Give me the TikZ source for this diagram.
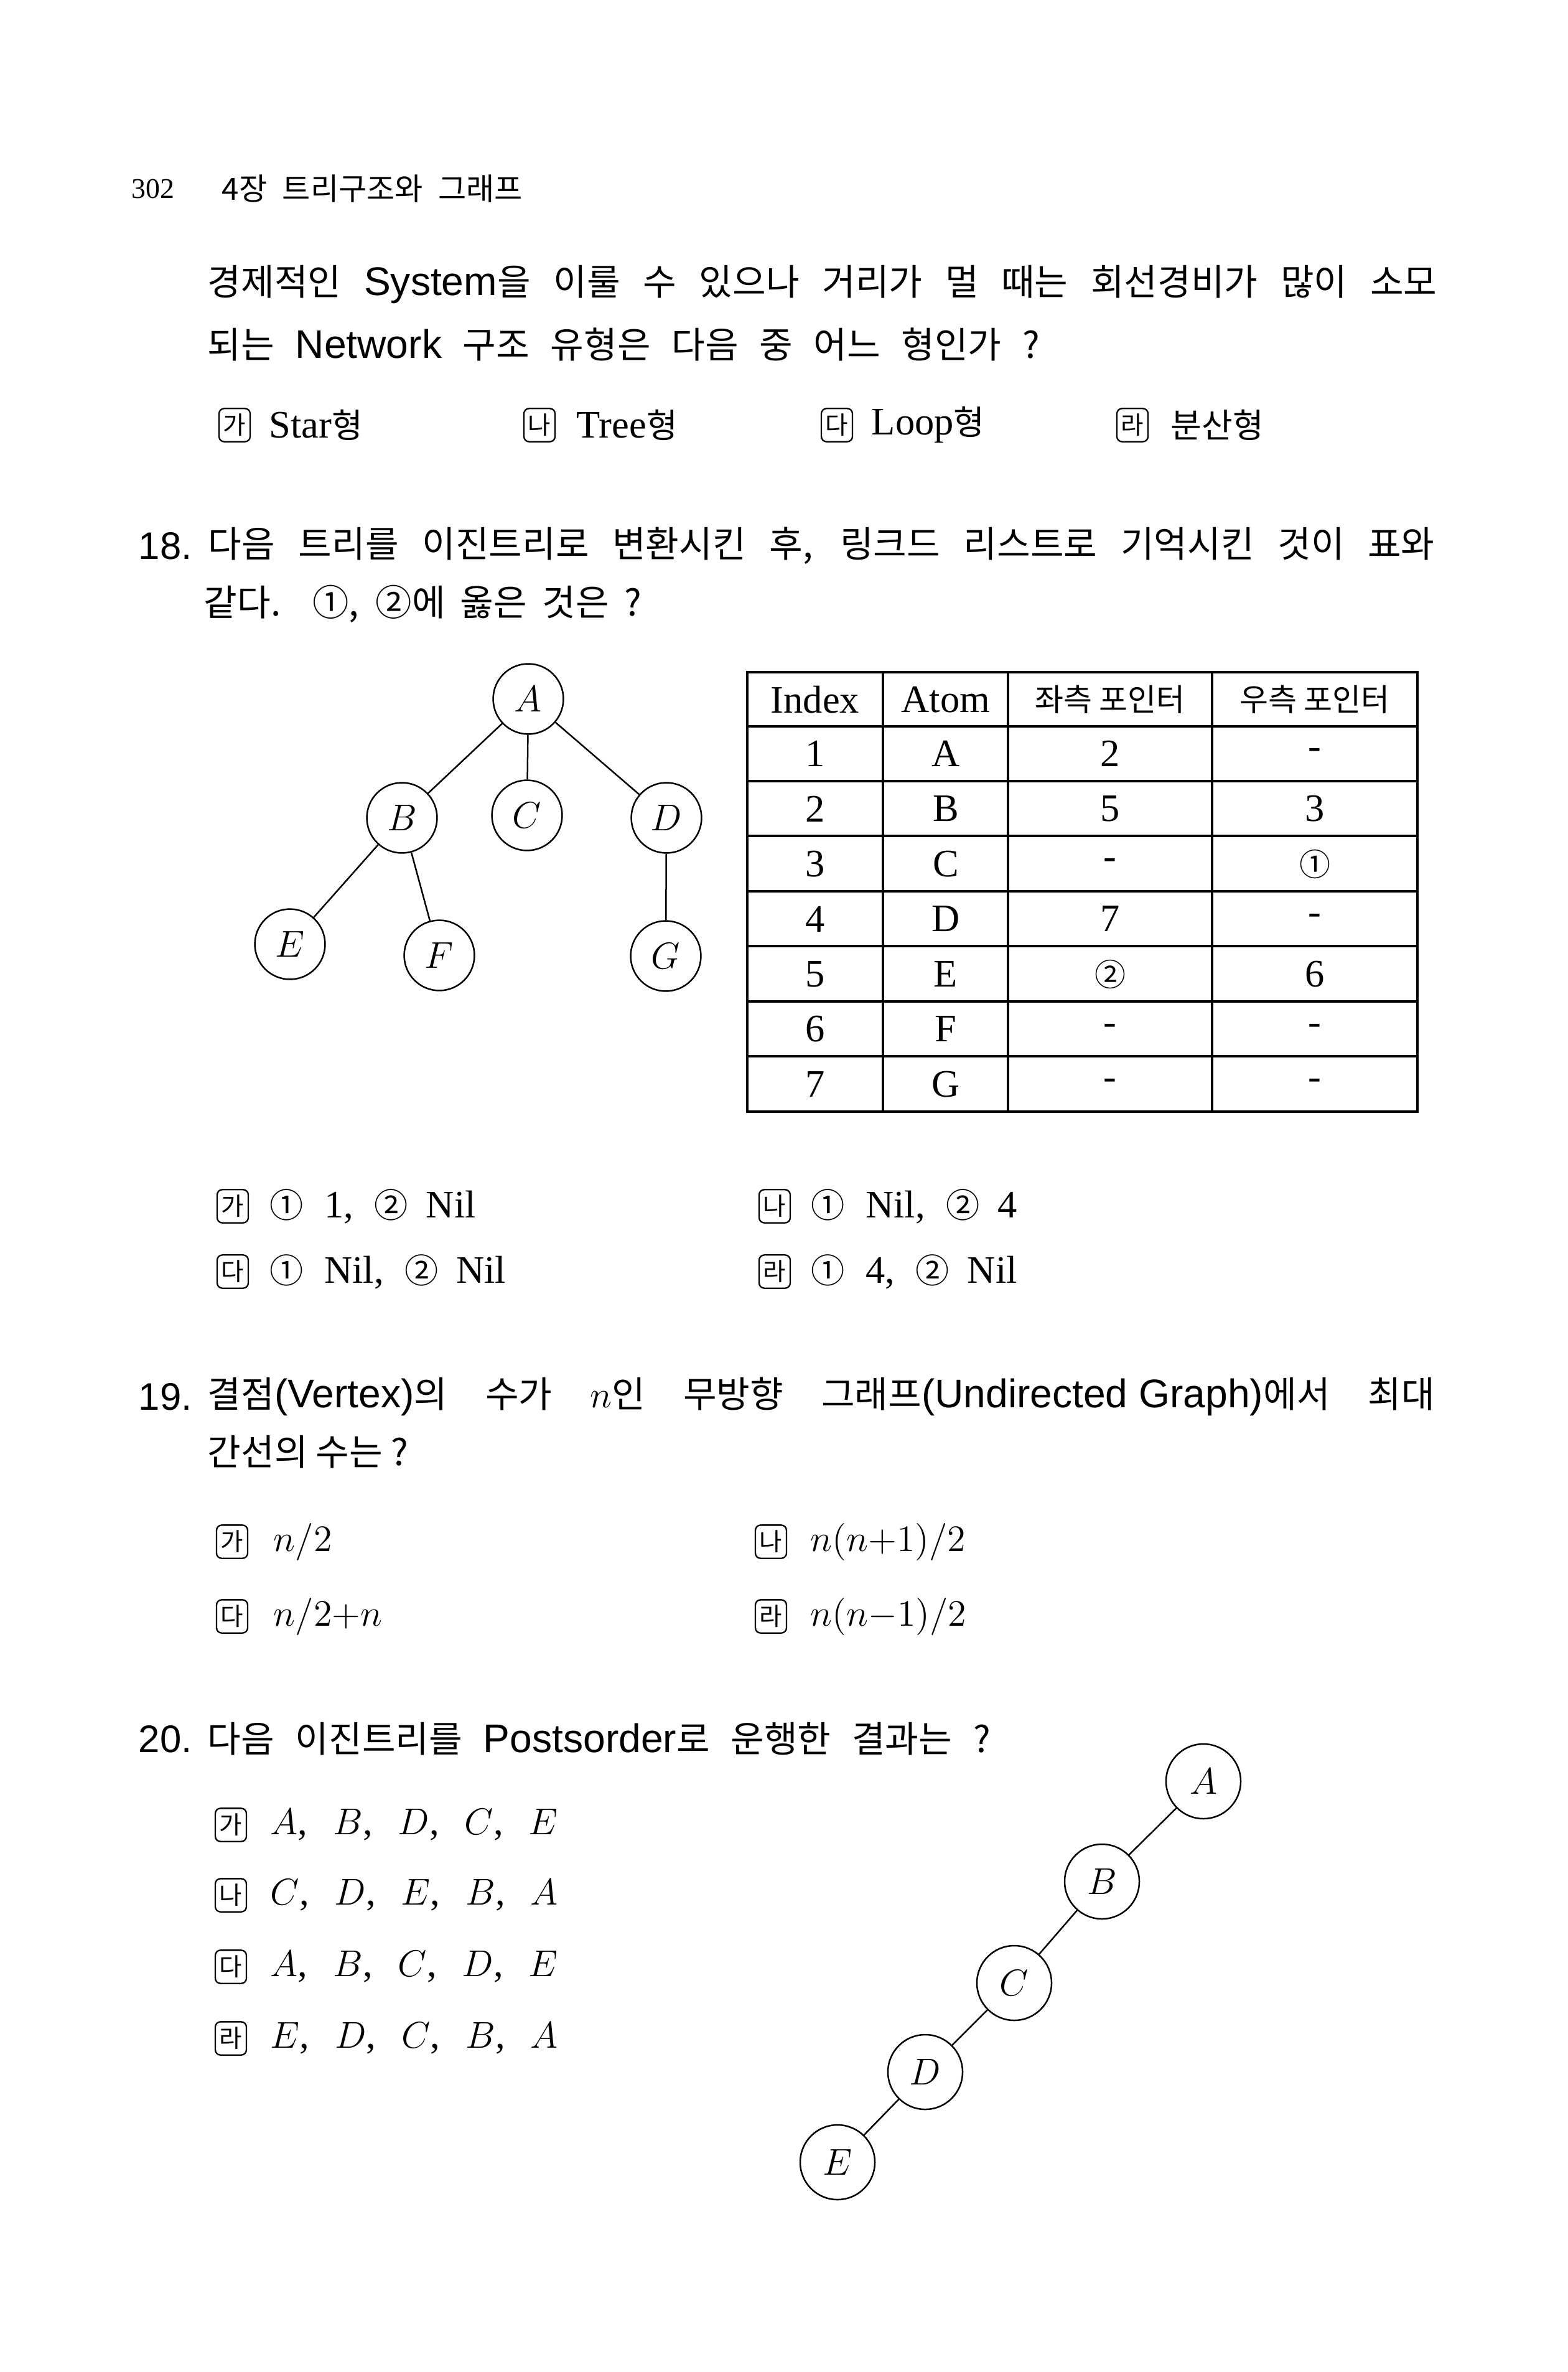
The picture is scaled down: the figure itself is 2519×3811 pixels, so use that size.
\documentclass[tikz,border=0pt]{standalone}
\usepackage{fontspec}
\setmainfont{Liberation Serif}
\newfontfamily\kr{Noto Sans CJK KR}
\newfontfamily\ls{Liberation Sans}
\newcommand\fs[1]{\fontsize{#1}{#1}\selectfont}
\newcommand\lw[1]{{\ls\fs{15.4pt}#1}}
\newcommand\hk[1]{{\kr\fs{13pt}#1}}
\newcommand\tk[1]{{\kr\fs{12pt}#1}}
\begin{document}
\begin{tikzpicture}[x=0.24pt,y=-0.24pt,
  stem/.style={anchor=west,inner sep=0pt,font=\kr\fs{14pt}},
  qnum/.style={anchor=west,inner sep=0pt,font=\ls\fs{14.8pt}},
  chbox/.style={draw,rounded corners=2pt,minimum width=12pt,minimum height=12.8pt,inner sep=0pt,line width=0.55pt,font=\kr\fs{9.5pt}},
  ch/.style={anchor=west,inner sep=0pt,font=\fs{15pt}},
  vtx/.style={circle,draw,line width=0.6pt,minimum size=27.1pt,inner sep=0pt,font=\fs{15pt}},
  vtxb/.style={vtx,minimum size=28.8pt},
  edge/.style={line width=0.6pt},
  tbl/.style={line width=0.75pt},
  cell/.style={inner sep=0pt,font=\fs{15pt}}
]
\fill[white] (0,0) rectangle (2519,3811);
\useasboundingbox (0,0) rectangle (2519,3811);

% header
\node[anchor=west,inner sep=0pt,font=\fs{11pt}] (pg) at (211,303) {302};
\node[anchor=west,inner sep=0pt,font=\kr\fs{11.8pt}] (ttl) at (356,303) {\makebox[116pt][s]{4장 트리구조와 그래프}};

% Q17
\node[stem] (q17a) at (333,457) {\makebox[474.2pt][s]{경제적인 \lw{System}을 이룰 수 있으나 거리가 멀 때는 회선경비가 많이 소모}};
\node[stem] (q17b) at (333,553) {\makebox[320.9pt][s]{되는 \lw{Network} 구조 유형은 다음 중 어느 형인가 ?}};
\node[chbox] (k17a) at (377,683) {가};
\node[ch] (c17a) at (432,683) {Star\hk{형}};
\node[chbox] (k17b) at (867,683) {나};
\node[ch] (c17b) at (926,683) {Tree\hk{형}};
\node[chbox] (k17c) at (1345,683) {다};
\node[ch] (c17c) at (1400,683) {Loop\hk{형}};
\node[chbox] (k17d) at (1820,683) {라};
\node[ch] (c17d) at (1881,683) {\hk{분산형}};

% Q18
\node[qnum] (n18) at (222,877) {18.};
\node[stem] (q18a) at (334,877) {\makebox[473pt][s]{다음 트리를 이진트리로 변환시킨 후, 링크드 리스트로 기억시킨 것이 표와}};
\node[stem] (q18b) at (327,970) {\makebox[168.7pt][s]{같다. ①, ②에 옳은 것은 ?}};

% tree of Q18
\node[vtx] (ta) at (849,1123) {$A$};
\node[vtx] (tb) at (646,1314) {$B$};
\node[vtx] (tc) at (847,1310) {$C$};
\node[vtx] (td) at (1071,1314) {$D$};
\node[vtx] (te) at (466,1517) {$E$};
\node[vtx] (tf) at (706,1535) {$F$};
\node[vtx] (tg) at (1070,1536) {$G$};
\draw[edge] (ta)--(tb) (ta)--(tc) (ta)--(td) (tb)--(te) (tb)--(tf) (td)--(tg);

% table
\draw[tbl] (1201,1080) rectangle (2278,1786);
\foreach \x in {1419,1620,1948} \draw[tbl] (\x,1080) -- (\x,1786);
\foreach \y in {1167,1255,1343,1432,1520,1609,1697} \draw[tbl] (1201,\y) -- (2278,\y);
\node[cell] (h1) at (1310,1124) {Index};
\node[cell] (h2) at (1520,1124) {Atom};
\node[cell] (h3) at (1784,1124) {\tk{좌측 포인터}};
\node[cell] (h4) at (2113,1124) {\tk{우측 포인터}};
\foreach \i/\a/\l/\r [count=\k] in {1/A/2/-, 2/B/5/3, 3/C/-/{\tk{①}}, 4/D/7/-, 5/E/{\tk{②}}/6, 6/F/-/-, 7/G/-/-}{
  \node[cell] (r\k i) at (1310,{1211+88.5*(\k-1)}) {\i};
  \node[cell] (r\k a) at (1520,{1211+88.5*(\k-1)}) {\a};
  \node[cell] (r\k l) at (1784,{1211+88.5*(\k-1)}) {\l};
  \node[cell] (r\k r) at (2113,{1211+88.5*(\k-1)}) {\r};
}

% answers Q18
\node[chbox] (k18a) at (374,1938) {가};
\node[ch] (c18a) at (433,1938) {\hk{①}\hspace{8pt}1,\hspace{8pt}\hk{②}\hspace{7pt}Nil};
\node[chbox] (k18b) at (1245,1938) {나};
\node[ch] (c18b) at (1303,1938) {\hk{①}\hspace{8pt}Nil,\hspace{8pt}\hk{②}\hspace{7pt}4};
\node[chbox] (k18c) at (374,2043) {다};
\node[ch] (c18c) at (433,2043) {\hk{①}\hspace{8pt}Nil,\hspace{8pt}\hk{②}\hspace{7pt}Nil};
\node[chbox] (k18d) at (1245,2043) {라};
\node[ch] (c18d) at (1303,2043) {\hk{①}\hspace{8pt}4,\hspace{8pt}\hk{②}\hspace{7pt}Nil};

% Q19
\node[qnum] (n19) at (222,2244) {19.};
\node[stem] (q19a) at (333,2244) {\makebox[473.3pt][s]{결점\lw{(Vertex)}의 수가 $n$인 무방향 그래프\lw{(Undirected\hspace{4.3pt}Graph)}에서 최대}};
\node[stem] (q19b) at (333,2333) {간선의 수는 ?};
\node[chbox] (k19a) at (373,2477) {가};
\node[ch] (c19a) at (439,2477) {$n/2$};
\node[chbox] (k19b) at (1239,2477) {나};
\node[ch] (c19b) at (1302,2477) {$n(n{+}1)/2$};
\node[chbox] (k19c) at (373,2597) {다};
\node[ch] (c19c) at (439,2597) {$n/2{+}n$};
\node[chbox] (k19d) at (1239,2597) {라};
\node[ch] (c19d) at (1302,2597) {$n(n{-}1)/2$};

% Q20
\node[qnum] (n20) at (222,2794) {20.};
\node[stem] (q20a) at (333,2794) {\makebox[301.9pt][s]{다음 이진트리를 \lw{Postsorder}로 운행한 결과는 ?}};
\node[chbox] (k20a) at (371,2932) {가};
\node[ch] (c20a) at (434,2932) {\makebox[110.9pt][s]{$A$, $B$, $D$, $C$, $E$}};
\node[chbox] (k20b) at (371,3045) {나};
\node[ch] (c20b) at (434,3045) {\makebox[110.9pt][s]{$C$, $D$, $E$, $B$, $A$}};
\node[chbox] (k20c) at (371,3160) {다};
\node[ch] (c20c) at (434,3160) {\makebox[110.9pt][s]{$A$, $B$, $C$, $D$, $E$}};
\node[chbox] (k20d) at (371,3275) {라};
\node[ch] (c20d) at (434,3275) {\makebox[110.9pt][s]{$E$, $D$, $C$, $B$, $A$}};

% tree of Q20
\node[vtxb] (ua) at (1934,2862) {$A$};
\node[vtxb] (ub) at (1771,3023) {$B$};
\node[vtxb] (uc) at (1630,3186) {$C$};
\node[vtxb] (ud) at (1487,3329) {$D$};
\node[vtxb] (ue) at (1346,3474) {$E$};
\draw[edge] (ua)--(ub) (ub)--(uc) (uc)--(ud) (ud)--(ue);
\end{tikzpicture}
\end{document}
